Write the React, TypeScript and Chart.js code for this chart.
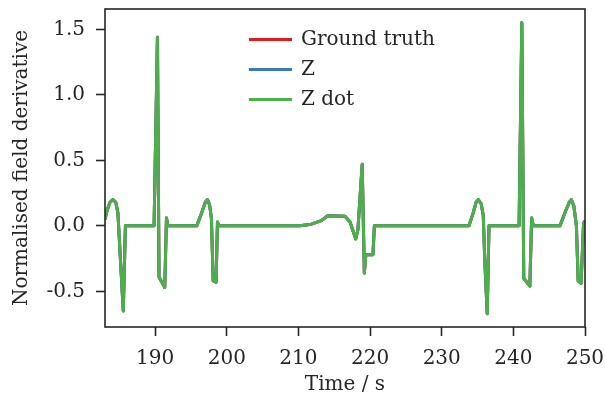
import React, { useEffect, useRef } from 'react';
import { Chart, registerables } from 'chart.js';

Chart.register(...registerables);

const timeSeconds = [
  183.0, 183.3, 183.7, 184.1, 184.5, 184.8, 185.1, 185.55, 185.85,
  189.85, 190.32, 190.54, 191.34, 191.58, 191.8,
  195.8, 196.5, 197.0, 197.3, 197.6, 197.85, 198.1, 198.5, 198.7, 198.9,
  210.2, 211.8, 213.2, 214.1, 216.5, 217.2, 218.0, 218.3, 218.9, 219.2, 219.4, 220.4, 220.6,
  233.8, 234.4, 234.8, 235.1, 235.5, 235.8, 236.0, 236.35, 236.6,
  240.8, 241.18, 241.45, 242.3, 242.55, 242.8,
  246.5, 247.2, 247.8, 248.1, 248.45, 248.8, 249.05, 249.45, 249.8, 250.0,
];

// Normalised field derivative values (the three curves overlap in the picture)
const groundTruth = [
  0.05, 0.12, 0.18, 0.2, 0.18, 0.1, -0.2, -0.65, 0.0,
  0.0, 1.44, -0.39, -0.47, 0.06, 0.0,
  0.0, 0.1, 0.18, 0.2, 0.16, 0.06, -0.42, -0.43, 0.03, 0.0,
  0.0, 0.013, 0.04, 0.077, 0.074, 0.03, -0.1, -0.03, 0.47, -0.36, -0.22, -0.22, 0.0,
  0.0, 0.1, 0.18, 0.2, 0.17, 0.08, -0.25, -0.67, 0.0,
  0.0, 1.55, -0.4, -0.46, 0.06, 0.0,
  0.0, 0.1, 0.18, 0.2, 0.15, 0.0, -0.42, -0.44, 0.02, 0.04,
];
const zValues = [
  0.05, 0.12, 0.18, 0.2, 0.18, 0.1, -0.2, -0.65, 0.0,
  0.0, 1.44, -0.39, -0.47, 0.06, 0.0,
  0.0, 0.1, 0.18, 0.2, 0.16, 0.06, -0.42, -0.43, 0.03, 0.0,
  0.0, 0.013, 0.04, 0.077, 0.074, 0.03, -0.1, -0.03, 0.47, -0.36, -0.22, -0.22, 0.0,
  0.0, 0.1, 0.18, 0.2, 0.17, 0.08, -0.25, -0.67, 0.0,
  0.0, 1.55, -0.4, -0.46, 0.06, 0.0,
  0.0, 0.1, 0.18, 0.2, 0.15, 0.0, -0.42, -0.44, 0.02, 0.04,
];
const zDotValues = [
  0.05, 0.12, 0.18, 0.2, 0.18, 0.1, -0.2, -0.65, 0.0,
  0.0, 1.44, -0.39, -0.47, 0.06, 0.0,
  0.0, 0.1, 0.18, 0.2, 0.16, 0.06, -0.42, -0.43, 0.03, 0.0,
  0.0, 0.013, 0.04, 0.077, 0.074, 0.03, -0.1, -0.03, 0.47, -0.36, -0.22, -0.22, 0.0,
  0.0, 0.1, 0.18, 0.2, 0.17, 0.08, -0.25, -0.67, 0.0,
  0.0, 1.55, -0.4, -0.46, 0.06, 0.0,
  0.0, 0.1, 0.18, 0.2, 0.15, 0.0, -0.42, -0.44, 0.02, 0.04,
];

const seriesLabels = ['Ground truth', 'Z', 'Z dot'];
const seriesColors = ['#e41a1c', '#377eb8', '#4daf4a'];
const xTickValues = [190, 200, 210, 220, 230, 240, 250];
const yTickValues = [-0.5, 0.0, 0.5, 1.0, 1.5];
const xRange = [183, 250];
const yRange = [-0.772, 1.655];

const FONT = 'DejaVu Serif';
const INK = '#262626';

const framePlugin = {
  id: 'frame',
  afterDraw(chart: any) {
    const { ctx, chartArea } = chart;
    ctx.save();
    ctx.strokeStyle = INK;
    ctx.lineWidth = 1.6;
    ctx.strokeRect(chartArea.left, chartArea.top, chartArea.right - chartArea.left, chartArea.bottom - chartArea.top);
    ctx.restore();
  },
};

const legendPlugin = {
  id: 'innerLegend',
  afterDatasetsDraw(chart: any) {
    const { ctx } = chart;
    const x0 = 249;
    const y0 = 39.5;
    const rowH = 30;
    ctx.save();
    ctx.font = `20px "${FONT}"`;
    ctx.textBaseline = 'middle';
    ctx.textAlign = 'left';
    chart.data.datasets.forEach((ds: any, i: number) => {
      const y = y0 + i * rowH;
      ctx.strokeStyle = ds.borderColor;
      ctx.lineWidth = 3;
      ctx.beginPath();
      ctx.moveTo(x0, y);
      ctx.lineTo(x0 + 43, y);
      ctx.stroke();
      ctx.fillStyle = INK;
      ctx.fillText(ds.label, x0 + 52, y);
    });
    ctx.restore();
  },
};

export default function App() {
  const canvasRef = useRef<HTMLCanvasElement | null>(null);

  useEffect(() => {
    if (!canvasRef.current) return;
    const seriesValues = [groundTruth, zValues, zDotValues];
    const chart = new Chart(canvasRef.current, {
      type: 'line',
      data: {
        datasets: seriesLabels.map((label, i) => ({
          label,
          data: timeSeconds.map((t, k) => ({ x: t, y: seriesValues[i][k] })),
          borderColor: seriesColors[i],
          backgroundColor: seriesColors[i],
          borderWidth: 3,
          pointRadius: 0,
          tension: 0,
          borderJoinStyle: 'round' as const,
          fill: false,
          order: seriesLabels.length - i,
        })),
      },
      options: {
        animation: false,
        responsive: false,
        devicePixelRatio: 1,
        events: [],
        layout: { padding: { top: 9, right: 21, left: 0, bottom: 0 } },
        plugins: {
          legend: { display: false },
          tooltip: { enabled: false },
        },
        scales: {
          x: {
            type: 'linear',
            min: xRange[0],
            max: xRange[1],
            afterFit(scale: any) {
              scale.height = 70;
              scale.paddingLeft = 0;
              scale.paddingRight = 0;
              scale.paddingTop = 0;
              scale.paddingBottom = 0;
            },
            afterBuildTicks(scale: any) {
              scale.ticks = xTickValues.map((v) => ({ value: v }));
            },
            border: { display: false },
            grid: {
              drawOnChartArea: false,
              drawTicks: true,
              tickLength: 9,
              tickColor: INK,
              tickWidth: 1.6,
              color: INK,
            },
            ticks: {
              color: INK,
              padding: 11,
              maxRotation: 0,
              font: { family: FONT, size: 20 },
              callback: (v: any) => String(v),
            },
            title: {
              display: true,
              text: 'Time / s',
              color: INK,
              font: { family: FONT, size: 20, lineHeight: 1.2 },
              padding: { top: 0, bottom: 0 },
            },
          },
          y: {
            type: 'linear',
            min: yRange[0],
            max: yRange[1],
            afterFit(scale: any) {
              scale.width = 105;
              scale.paddingLeft = 0;
              scale.paddingRight = 0;
              scale.paddingTop = 0;
              scale.paddingBottom = 0;
            },
            afterBuildTicks(scale: any) {
              scale.ticks = yTickValues.map((v) => ({ value: v }));
            },
            border: { display: false },
            grid: {
              drawOnChartArea: false,
              drawTicks: true,
              tickLength: 9,
              tickColor: INK,
              tickWidth: 1.6,
              color: INK,
            },
            ticks: {
              color: INK,
              padding: 11,
              font: { family: FONT, size: 20 },
              callback: (v: any) => Number(v).toFixed(1),
            },
            title: {
              display: true,
              text: 'Normalised field derivative',
              color: INK,
              font: { family: FONT, size: 20, lineHeight: 1.2 },
              padding: { top: 10, bottom: 0 },
            },
          },
        },
      },
      plugins: [framePlugin, legendPlugin],
    });
    return () => chart.destroy();
  }, []);

  return (
    <div style={{ position: 'absolute', left: 0, top: 0, width: 606, height: 397, background: '#fff' }}>
      <canvas ref={canvasRef} width={606} height={397} style={{ width: 606, height: 397, display: 'block' }} />
    </div>
  );
}
